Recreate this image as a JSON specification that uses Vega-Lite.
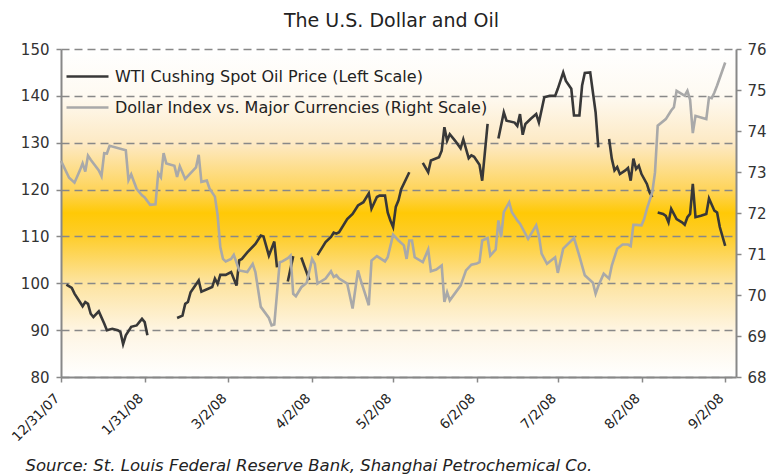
{
  "$schema": "https://vega.github.io/schema/vega-lite/v6.json",
  "width": 675,
  "height": 328,
  "autosize": "none",
  "padding": {"left": 61, "top": 49, "right": 48, "bottom": 99},
  "background": "#ffffff",
  "view": {
    "stroke": null,
    "fill": {"gradient": "linear", "x1": 0, "y1": 0, "x2": 0, "y2": 1,
      "stops": [
        {"offset": 0, "color": "#ffffff"},
        {"offset": 0.14, "color": "#fefaf2"},
        {"offset": 0.29, "color": "#fde9c3"},
        {"offset": 0.43, "color": "#fed45a"},
        {"offset": 0.5, "color": "#ffc906"},
        {"offset": 0.57, "color": "#fecd2a"},
        {"offset": 0.71, "color": "#fde39e"},
        {"offset": 0.86, "color": "#fef5e3"},
        {"offset": 1, "color": "#ffffff"}
      ]}
  },
  "title": {"text": "The U.S. Dollar and Oil", "fontSize": 19, "font": "DejaVu Sans", "fontWeight": "normal", "color": "#222222", "offset": 11, "dx": -7},
  "datasets": {
    "oil": [
      {"date": "2008-01-02", "price": 99.7, "seg": 1},
      {"date": "2008-01-04", "price": 99.0, "seg": 1},
      {"date": "2008-01-05", "price": 97.8, "seg": 1},
      {"date": "2008-01-07", "price": 96.0, "seg": 1},
      {"date": "2008-01-08", "price": 95.1, "seg": 1},
      {"date": "2008-01-09", "price": 96.0, "seg": 1},
      {"date": "2008-01-10", "price": 95.6, "seg": 1},
      {"date": "2008-01-11", "price": 93.5, "seg": 1},
      {"date": "2008-01-12", "price": 92.8, "seg": 1},
      {"date": "2008-01-14", "price": 94.0, "seg": 1},
      {"date": "2008-01-16", "price": 91.4, "seg": 1},
      {"date": "2008-01-17", "price": 90.0, "seg": 1},
      {"date": "2008-01-19", "price": 90.3, "seg": 1},
      {"date": "2008-01-21", "price": 90.0, "seg": 1},
      {"date": "2008-01-22", "price": 89.6, "seg": 1},
      {"date": "2008-01-23", "price": 87.0, "seg": 1},
      {"date": "2008-01-24", "price": 88.9, "seg": 1},
      {"date": "2008-01-26", "price": 90.7, "seg": 1},
      {"date": "2008-01-28", "price": 91.0, "seg": 1},
      {"date": "2008-01-29", "price": 91.7, "seg": 1},
      {"date": "2008-01-30", "price": 92.4, "seg": 1},
      {"date": "2008-01-31", "price": 91.7, "seg": 1},
      {"date": "2008-02-01", "price": 88.9, "seg": 1},
      {"date": "2008-02-12", "price": 92.6, "seg": 2},
      {"date": "2008-02-14", "price": 93.1, "seg": 2},
      {"date": "2008-02-15", "price": 95.6, "seg": 2},
      {"date": "2008-02-16", "price": 96.0, "seg": 2},
      {"date": "2008-02-17", "price": 98.1, "seg": 2},
      {"date": "2008-02-20", "price": 100.6, "seg": 2},
      {"date": "2008-02-21", "price": 98.2, "seg": 2},
      {"date": "2008-02-25", "price": 99.2, "seg": 2},
      {"date": "2008-02-26", "price": 101.0, "seg": 2},
      {"date": "2008-02-27", "price": 99.9, "seg": 2},
      {"date": "2008-02-28", "price": 101.8, "seg": 2},
      {"date": "2008-03-01", "price": 101.8, "seg": 2},
      {"date": "2008-03-03", "price": 102.4, "seg": 2},
      {"date": "2008-03-05", "price": 99.5, "seg": 2},
      {"date": "2008-03-06", "price": 104.9, "seg": 2},
      {"date": "2008-03-07", "price": 105.2, "seg": 2},
      {"date": "2008-03-09", "price": 106.6, "seg": 2},
      {"date": "2008-03-12", "price": 108.4, "seg": 2},
      {"date": "2008-03-14", "price": 110.2, "seg": 2},
      {"date": "2008-03-15", "price": 110.0, "seg": 2},
      {"date": "2008-03-17", "price": 105.9, "seg": 2},
      {"date": "2008-03-19", "price": 108.9, "seg": 2},
      {"date": "2008-03-20", "price": 103.4, "seg": 2},
      {"date": "2008-03-24", "price": 100.4, "seg": 3},
      {"date": "2008-03-26", "price": 105.8, "seg": 3},
      {"date": "2008-03-29", "price": 105.5, "seg": 4},
      {"date": "2008-04-01", "price": 100.7, "seg": 4},
      {"date": "2008-04-04", "price": 106.0, "seg": 5},
      {"date": "2008-04-07", "price": 108.8, "seg": 5},
      {"date": "2008-04-09", "price": 109.9, "seg": 5},
      {"date": "2008-04-10", "price": 110.8, "seg": 5},
      {"date": "2008-04-11", "price": 110.6, "seg": 5},
      {"date": "2008-04-12", "price": 110.9, "seg": 5},
      {"date": "2008-04-15", "price": 113.7, "seg": 5},
      {"date": "2008-04-17", "price": 114.8, "seg": 5},
      {"date": "2008-04-19", "price": 116.6, "seg": 5},
      {"date": "2008-04-21", "price": 117.3, "seg": 5},
      {"date": "2008-04-23", "price": 119.2, "seg": 5},
      {"date": "2008-04-24", "price": 115.9, "seg": 5},
      {"date": "2008-04-26", "price": 118.4, "seg": 5},
      {"date": "2008-04-27", "price": 118.7, "seg": 5},
      {"date": "2008-04-29", "price": 118.7, "seg": 5},
      {"date": "2008-04-30", "price": 115.1, "seg": 5},
      {"date": "2008-05-01", "price": 113.4, "seg": 5},
      {"date": "2008-05-02", "price": 112.0, "seg": 5},
      {"date": "2008-05-03", "price": 116.3, "seg": 5},
      {"date": "2008-05-04", "price": 117.7, "seg": 5},
      {"date": "2008-05-05", "price": 120.1, "seg": 5},
      {"date": "2008-05-08", "price": 123.7, "seg": 5},
      {"date": "2008-05-13", "price": 125.7, "seg": 6},
      {"date": "2008-05-15", "price": 123.7, "seg": 6},
      {"date": "2008-05-16", "price": 126.2, "seg": 6},
      {"date": "2008-05-19", "price": 126.9, "seg": 6},
      {"date": "2008-05-20", "price": 128.3, "seg": 6},
      {"date": "2008-05-21", "price": 133.3, "seg": 6},
      {"date": "2008-05-22", "price": 130.4, "seg": 6},
      {"date": "2008-05-23", "price": 131.8, "seg": 6},
      {"date": "2008-05-25", "price": 130.4, "seg": 6},
      {"date": "2008-05-27", "price": 128.8, "seg": 6},
      {"date": "2008-05-28", "price": 130.7, "seg": 6},
      {"date": "2008-05-30", "price": 126.7, "seg": 6},
      {"date": "2008-05-31", "price": 127.3, "seg": 6},
      {"date": "2008-06-01", "price": 127.0, "seg": 6},
      {"date": "2008-06-03", "price": 125.3, "seg": 6},
      {"date": "2008-06-04", "price": 121.9, "seg": 6},
      {"date": "2008-06-06", "price": 134.0, "seg": 6},
      {"date": "2008-06-10", "price": 130.9, "seg": 7},
      {"date": "2008-06-12", "price": 136.5, "seg": 7},
      {"date": "2008-06-13", "price": 134.7, "seg": 7},
      {"date": "2008-06-16", "price": 134.3, "seg": 7},
      {"date": "2008-06-17", "price": 133.6, "seg": 7},
      {"date": "2008-06-18", "price": 136.1, "seg": 7},
      {"date": "2008-06-19", "price": 131.7, "seg": 7},
      {"date": "2008-06-20", "price": 134.0, "seg": 7},
      {"date": "2008-06-22", "price": 135.1, "seg": 7},
      {"date": "2008-06-24", "price": 136.1, "seg": 7},
      {"date": "2008-06-25", "price": 134.3, "seg": 7},
      {"date": "2008-06-27", "price": 139.7, "seg": 7},
      {"date": "2008-06-29", "price": 140.0, "seg": 7},
      {"date": "2008-07-01", "price": 140.0, "seg": 7},
      {"date": "2008-07-02", "price": 141.5, "seg": 7},
      {"date": "2008-07-04", "price": 145.0, "seg": 7},
      {"date": "2008-07-05", "price": 143.2, "seg": 7},
      {"date": "2008-07-07", "price": 141.5, "seg": 7},
      {"date": "2008-07-08", "price": 135.8, "seg": 7},
      {"date": "2008-07-10", "price": 135.8, "seg": 7},
      {"date": "2008-07-11", "price": 142.2, "seg": 7},
      {"date": "2008-07-12", "price": 144.9, "seg": 7},
      {"date": "2008-07-14", "price": 145.0, "seg": 7},
      {"date": "2008-07-16", "price": 136.5, "seg": 7},
      {"date": "2008-07-17", "price": 129.0, "seg": 7},
      {"date": "2008-07-21", "price": 130.8, "seg": 8},
      {"date": "2008-07-22", "price": 126.6, "seg": 8},
      {"date": "2008-07-23", "price": 124.1, "seg": 8},
      {"date": "2008-07-24", "price": 124.8, "seg": 8},
      {"date": "2008-07-25", "price": 123.3, "seg": 8},
      {"date": "2008-07-27", "price": 124.1, "seg": 8},
      {"date": "2008-07-28", "price": 124.6, "seg": 8},
      {"date": "2008-07-29", "price": 121.9, "seg": 8},
      {"date": "2008-07-30", "price": 126.6, "seg": 8},
      {"date": "2008-07-31", "price": 124.4, "seg": 8},
      {"date": "2008-08-01", "price": 125.1, "seg": 8},
      {"date": "2008-08-02", "price": 123.3, "seg": 8},
      {"date": "2008-08-04", "price": 121.2, "seg": 8},
      {"date": "2008-08-05", "price": 119.4, "seg": 8},
      {"date": "2008-08-06", "price": 118.4, "seg": 8},
      {"date": "2008-08-08", "price": 115.1, "seg": 9},
      {"date": "2008-08-10", "price": 114.8, "seg": 9},
      {"date": "2008-08-11", "price": 114.4, "seg": 9},
      {"date": "2008-08-12", "price": 113.0, "seg": 9},
      {"date": "2008-08-13", "price": 115.9, "seg": 9},
      {"date": "2008-08-15", "price": 113.7, "seg": 9},
      {"date": "2008-08-17", "price": 113.0, "seg": 9},
      {"date": "2008-08-18", "price": 112.5, "seg": 9},
      {"date": "2008-08-19", "price": 114.1, "seg": 9},
      {"date": "2008-08-20", "price": 114.8, "seg": 9},
      {"date": "2008-08-21", "price": 121.2, "seg": 9},
      {"date": "2008-08-22", "price": 114.1, "seg": 9},
      {"date": "2008-08-24", "price": 114.4, "seg": 9},
      {"date": "2008-08-26", "price": 114.8, "seg": 9},
      {"date": "2008-08-27", "price": 118.1, "seg": 9},
      {"date": "2008-08-29", "price": 115.5, "seg": 9},
      {"date": "2008-08-30", "price": 115.1, "seg": 9},
      {"date": "2008-08-31", "price": 112.0, "seg": 9},
      {"date": "2008-09-02", "price": 108.0, "seg": 9}
    ],
    "usd": [
      {"date": "2007-12-31", "index": 73.27},
      {"date": "2008-01-03", "index": 72.86},
      {"date": "2008-01-05", "index": 72.74},
      {"date": "2008-01-07", "index": 73.04},
      {"date": "2008-01-08", "index": 73.21},
      {"date": "2008-01-09", "index": 73.01},
      {"date": "2008-01-10", "index": 73.40},
      {"date": "2008-01-11", "index": 73.30},
      {"date": "2008-01-14", "index": 73.04},
      {"date": "2008-01-15", "index": 72.90},
      {"date": "2008-01-16", "index": 73.46},
      {"date": "2008-01-17", "index": 73.45},
      {"date": "2008-01-18", "index": 73.64},
      {"date": "2008-01-24", "index": 73.53},
      {"date": "2008-01-25", "index": 72.80},
      {"date": "2008-01-26", "index": 72.94},
      {"date": "2008-01-28", "index": 72.59},
      {"date": "2008-01-29", "index": 72.51},
      {"date": "2008-01-30", "index": 72.43},
      {"date": "2008-01-31", "index": 72.38},
      {"date": "2008-02-02", "index": 72.20},
      {"date": "2008-02-04", "index": 72.21},
      {"date": "2008-02-05", "index": 72.97},
      {"date": "2008-02-06", "index": 72.87},
      {"date": "2008-02-07", "index": 73.46},
      {"date": "2008-02-08", "index": 73.21},
      {"date": "2008-02-11", "index": 73.15},
      {"date": "2008-02-12", "index": 72.88},
      {"date": "2008-02-13", "index": 73.14},
      {"date": "2008-02-15", "index": 72.83},
      {"date": "2008-02-19", "index": 73.11},
      {"date": "2008-02-20", "index": 73.42},
      {"date": "2008-02-21", "index": 72.76},
      {"date": "2008-02-23", "index": 72.79},
      {"date": "2008-02-24", "index": 72.60},
      {"date": "2008-02-26", "index": 72.40},
      {"date": "2008-02-27", "index": 71.95},
      {"date": "2008-02-28", "index": 71.17},
      {"date": "2008-02-29", "index": 70.88},
      {"date": "2008-03-01", "index": 70.82},
      {"date": "2008-03-03", "index": 70.88},
      {"date": "2008-03-04", "index": 70.98},
      {"date": "2008-03-06", "index": 70.60},
      {"date": "2008-03-09", "index": 70.56},
      {"date": "2008-03-11", "index": 70.76},
      {"date": "2008-03-12", "index": 70.56},
      {"date": "2008-03-14", "index": 69.71},
      {"date": "2008-03-17", "index": 69.44},
      {"date": "2008-03-18", "index": 69.26},
      {"date": "2008-03-19", "index": 69.28},
      {"date": "2008-03-21", "index": 70.80},
      {"date": "2008-03-22", "index": 70.82},
      {"date": "2008-03-24", "index": 70.90},
      {"date": "2008-03-25", "index": 70.96},
      {"date": "2008-03-26", "index": 70.03},
      {"date": "2008-03-27", "index": 69.97},
      {"date": "2008-03-29", "index": 70.19},
      {"date": "2008-03-31", "index": 70.30},
      {"date": "2008-04-02", "index": 70.88},
      {"date": "2008-04-03", "index": 70.76},
      {"date": "2008-04-04", "index": 70.28},
      {"date": "2008-04-07", "index": 70.40},
      {"date": "2008-04-09", "index": 70.58},
      {"date": "2008-04-10", "index": 70.44},
      {"date": "2008-04-11", "index": 70.48},
      {"date": "2008-04-12", "index": 70.40},
      {"date": "2008-04-15", "index": 70.28},
      {"date": "2008-04-17", "index": 69.67},
      {"date": "2008-04-19", "index": 70.60},
      {"date": "2008-04-20", "index": 70.36},
      {"date": "2008-04-23", "index": 69.75},
      {"date": "2008-04-24", "index": 70.84},
      {"date": "2008-04-26", "index": 70.95},
      {"date": "2008-04-29", "index": 70.82},
      {"date": "2008-04-30", "index": 70.92},
      {"date": "2008-05-02", "index": 71.47},
      {"date": "2008-05-04", "index": 71.33},
      {"date": "2008-05-06", "index": 71.21},
      {"date": "2008-05-07", "index": 70.88},
      {"date": "2008-05-08", "index": 71.33},
      {"date": "2008-05-09", "index": 71.33},
      {"date": "2008-05-10", "index": 70.92},
      {"date": "2008-05-13", "index": 70.80},
      {"date": "2008-05-15", "index": 71.11},
      {"date": "2008-05-16", "index": 70.58},
      {"date": "2008-05-18", "index": 70.62},
      {"date": "2008-05-20", "index": 70.72},
      {"date": "2008-05-21", "index": 69.83},
      {"date": "2008-05-22", "index": 70.07},
      {"date": "2008-05-23", "index": 69.87},
      {"date": "2008-05-27", "index": 70.23},
      {"date": "2008-05-29", "index": 70.60},
      {"date": "2008-05-31", "index": 70.74},
      {"date": "2008-06-02", "index": 70.77},
      {"date": "2008-06-03", "index": 70.80},
      {"date": "2008-06-04", "index": 71.33},
      {"date": "2008-06-06", "index": 71.39},
      {"date": "2008-06-07", "index": 70.96},
      {"date": "2008-06-09", "index": 71.11},
      {"date": "2008-06-10", "index": 71.82},
      {"date": "2008-06-11", "index": 71.41},
      {"date": "2008-06-12", "index": 72.02},
      {"date": "2008-06-14", "index": 72.26},
      {"date": "2008-06-15", "index": 72.02},
      {"date": "2008-06-17", "index": 71.82},
      {"date": "2008-06-18", "index": 71.74},
      {"date": "2008-06-21", "index": 71.37},
      {"date": "2008-06-24", "index": 71.70},
      {"date": "2008-06-25", "index": 71.45},
      {"date": "2008-06-26", "index": 71.01},
      {"date": "2008-06-28", "index": 70.76},
      {"date": "2008-07-01", "index": 70.92},
      {"date": "2008-07-02", "index": 70.54},
      {"date": "2008-07-04", "index": 71.13},
      {"date": "2008-07-08", "index": 71.39},
      {"date": "2008-07-10", "index": 70.95},
      {"date": "2008-07-12", "index": 70.48},
      {"date": "2008-07-14", "index": 70.36},
      {"date": "2008-07-15", "index": 70.30},
      {"date": "2008-07-16", "index": 70.03},
      {"date": "2008-07-17", "index": 70.22},
      {"date": "2008-07-19", "index": 70.52},
      {"date": "2008-07-21", "index": 70.40},
      {"date": "2008-07-22", "index": 70.72},
      {"date": "2008-07-24", "index": 71.13},
      {"date": "2008-07-26", "index": 71.23},
      {"date": "2008-07-28", "index": 71.23},
      {"date": "2008-07-29", "index": 71.19},
      {"date": "2008-07-30", "index": 71.71},
      {"date": "2008-07-31", "index": 71.71},
      {"date": "2008-08-02", "index": 71.70},
      {"date": "2008-08-03", "index": 71.86},
      {"date": "2008-08-04", "index": 72.10},
      {"date": "2008-08-06", "index": 72.51},
      {"date": "2008-08-07", "index": 72.99},
      {"date": "2008-08-08", "index": 74.13},
      {"date": "2008-08-11", "index": 74.29},
      {"date": "2008-08-13", "index": 74.50},
      {"date": "2008-08-14", "index": 74.58},
      {"date": "2008-08-15", "index": 74.98},
      {"date": "2008-08-17", "index": 74.90},
      {"date": "2008-08-18", "index": 74.86},
      {"date": "2008-08-19", "index": 74.98},
      {"date": "2008-08-20", "index": 74.76},
      {"date": "2008-08-21", "index": 73.95},
      {"date": "2008-08-22", "index": 74.37},
      {"date": "2008-08-24", "index": 74.33},
      {"date": "2008-08-26", "index": 74.29},
      {"date": "2008-08-27", "index": 74.82},
      {"date": "2008-08-28", "index": 74.80},
      {"date": "2008-08-29", "index": 74.94},
      {"date": "2008-08-30", "index": 75.11},
      {"date": "2008-09-02", "index": 75.67}
    ]
  },
  "encoding": {
    "x": {
      "field": "date",
      "type": "temporal",
      "scale": {"type": "utc", "domain": [{"year": 2007, "month": 12, "date": 31, "utc": true}, {"year": 2008, "month": 9, "date": 6, "utc": true}]},
      "axis": {
        "values": [
          {"year": 2007, "month": 12, "date": 31, "utc": true},
          {"year": 2008, "month": 1, "date": 31, "utc": true},
          {"year": 2008, "month": 3, "date": 2, "utc": true},
          {"year": 2008, "month": 4, "date": 2, "utc": true},
          {"year": 2008, "month": 5, "date": 2, "utc": true},
          {"year": 2008, "month": 6, "date": 2, "utc": true},
          {"year": 2008, "month": 7, "date": 2, "utc": true},
          {"year": 2008, "month": 8, "date": 2, "utc": true},
          {"year": 2008, "month": 9, "date": 2, "utc": true}
        ],
        "format": "%-m/%-d/%y",
        "labelAngle": -45,
        "labelOverlap": false,
        "labelFont": "DejaVu Sans",
        "labelFontSize": 13.5,
        "labelColor": "#222222",
        "labelPadding": 9,
        "labelOffset": -9,
        "tickSize": 5,
        "tickColor": "#888888",
        "tickWidth": 1.5,
        "domainColor": "#888888",
        "domainWidth": 2,
        "grid": false,
        "title": "Source:  St. Louis Federal Reserve Bank, Shanghai Petrochemical Co.",
        "titleFont": "DejaVu Sans",
        "titleFontStyle": "italic",
        "titleFontWeight": "normal",
        "titleFontSize": 16.5,
        "titleColor": "#222222",
        "titleAnchor": "start",
        "titleAlign": "left",
        "titleBaseline": "alphabetic",
        "titleX": -36,
        "titleY": 93
      }
    }
  },
  "layer": [
    {
      "data": {"name": "oil"},
      "mark": {"type": "line", "strokeWidth": 2.6, "interpolate": "linear"},
      "encoding": {
        "y": {
          "field": "price",
          "type": "quantitative",
          "scale": {"domain": [80, 150], "nice": false, "zero": false},
          "axis": {
            "values": [80, 90, 100, 110, 120, 130, 140, 150],
            "title": null,
            "grid": true,
            "gridDash": [8, 5],
            "gridColor": "#888888",
            "gridWidth": 1.5,
            "labelFont": "DejaVu Sans",
            "labelFontSize": 15,
            "labelColor": "#333333",
            "labelPadding": 7,
            "tickSize": 5,
            "tickColor": "#888888",
            "tickWidth": 1.5,
            "domainColor": "#888888",
            "domainWidth": 2
          }
        },
        "detail": {"field": "seg", "type": "nominal"},
        "color": {
          "datum": "WTI Cushing Spot Oil Price (Left Scale)",
          "type": "nominal",
          "scale": {
            "domain": ["WTI Cushing Spot Oil Price (Left Scale)", "Dollar Index vs. Major Currencies (Right Scale)"],
            "range": ["#383838", "#a9a9a9"]
          },
          "legend": {
            "orient": "none",
            "legendX": 4,
            "legendY": 5,
            "title": null,
            "symbolType": "stroke",
            "symbolSize": 1764,
            "symbolStrokeWidth": 2.5,
            "labelFont": "DejaVu Sans",
            "labelFontSize": 16,
            "labelColor": "#222222",
            "labelOffset": 5,
            "rowPadding": -8,
            "labelLimit": 500
          }
        }
      }
    },
    {
      "data": {"name": "usd"},
      "mark": {"type": "line", "strokeWidth": 2.6, "interpolate": "linear"},
      "encoding": {
        "y": {
          "field": "index",
          "type": "quantitative",
          "scale": {"domain": [68, 76], "nice": false, "zero": false},
          "axis": {
            "orient": "right",
            "values": [68, 69, 70, 71, 72, 73, 74, 75, 76],
            "title": null,
            "grid": false,
            "labelFont": "DejaVu Sans",
            "labelFontSize": 15,
            "labelColor": "#333333",
            "labelPadding": 6,
            "tickSize": 5,
            "tickColor": "#888888",
            "tickWidth": 1.5,
            "domainColor": "#888888",
            "domainWidth": 2
          }
        },
        "color": {"datum": "Dollar Index vs. Major Currencies (Right Scale)", "type": "nominal"}
      }
    }
  ],
  "resolve": {"scale": {"y": "independent"}}
}
